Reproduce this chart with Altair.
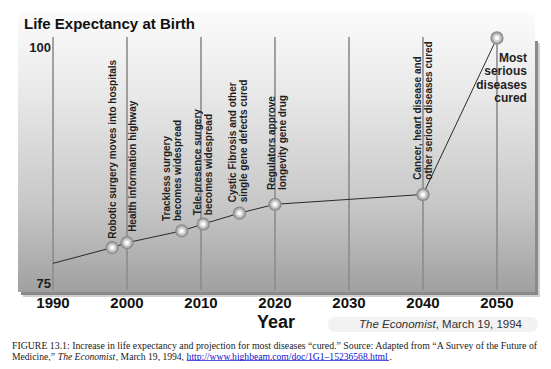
import altair as alt
import pandas as pd

# ---------------- data ----------------
years = [1990, 1998, 2000, 2007.4, 2010.3, 2015.2, 2020, 2040, 2050]
life_exp = [77.1, 78.7, 79.2, 80.4, 81.1, 82.2, 83.1, 84.1, 100.0]

event_labels = [
    "Robotic surgery moves into hospitals",
    "Health information highway",
    "Trackless surgery\nbecomes widespread",
    "Tele-presence surgery\nbecomes widespread",
    "Cystic Fibrosis and other\nsingle gene defects cured",
    "Regulators approve\nlongevity gene drug",
    "Cancer, heart disease and\nother serious diseases cured",
]
# anchor = start (bottom) of the first line of each rotated label
event_label_year = [1998.1, 2000.8, 2005.4, 2009.6, 2014.3, 2019.6, 2039.3]
event_label_value = [79.6, 80.3, 81.4, 82.0, 83.3, 84.55, 85.6]

final_label = "Most\nserious\ndiseases\ncured"
final_label_year = [2054.05]
final_label_value = [97.95]

tick_years = [1990, 2000, 2010, 2020, 2030, 2040, 2050]
y_top_label = ["100"]
y_top_value = [100]
y_bottom_label = ["75"]
y_bottom_value = [75]

title_text = "Life Expectancy at Birth"
x_title = "Year"
source_italic = "The Economist"
source_rest = ", March 19, 1994"
caption_line1 = ("FIGURE 13.1: Increase in life expectancy and projection for most diseases "
                 "\u201ccured.\u201d Source: Adapted from \u201cA Survey of the Future of")
caption_l2_a = "Medicine,\u201d "
caption_l2_b = "The Economist"
caption_l2_c = ", March 19, 1994, "
caption_l2_link = "http://www.highbeam.com/doc/1G1\u201315236568.html"
caption_l2_end = "."

# ---------------- tables ----------------
series = pd.DataFrame({"year": years, "value": life_exp})
points = series[series["year"] > 1990].reset_index(drop=True)
events = pd.DataFrame({"year": event_label_year, "value": event_label_value, "label": event_labels})
final = pd.DataFrame({"year": final_label_year, "value": final_label_value, "label": [final_label]})
ticks = pd.DataFrame({"year": tick_years})
ytop = pd.DataFrame({"value": y_top_value, "label": y_top_label})
ybot = pd.DataFrame({"value": y_bottom_value, "label": y_bottom_label})
one = pd.DataFrame({"a": [0]})

W, H = 517, 280
xs = alt.Scale(domain=[1985.27, 2055.14], nice=False, zero=False)
ys = alt.Scale(domain=[74.19, 102.64], nice=False, zero=False)
X = alt.X("year:Q", scale=xs, axis=None)
Y = alt.Y("value:Q", scale=ys, axis=None)
SANS = "Liberation Sans"
SERIF = "Liberation Serif"

panel_grad = alt.LinearGradient(
    gradient="linear",
    stops=[
        alt.GradientStop(color="#fbfbfb", offset=0),
        alt.GradientStop(color="#e8e8e8", offset=0.3),
        alt.GradientStop(color="#c6c6c6", offset=0.7),
        alt.GradientStop(color="#a0a0a0", offset=1),
    ],
    x1=0, x2=0, y1=0, y2=1,
)

shadow = alt.Chart(one).mark_rect(fill="#8a8a8a").encode(
    x=alt.value(3), x2=alt.value(W + 3), y=alt.value(29), y2=alt.value(H + 3)
)
shadow2 = alt.Chart(one).mark_rect(fill="#d0d0d0").encode(
    x=alt.value(5), x2=alt.value(W + 5), y=alt.value(31), y2=alt.value(H + 5)
)
panel = alt.Chart(one).mark_rect(fill=panel_grad).encode(
    x=alt.value(0), x2=alt.value(W), y=alt.value(0), y2=alt.value(H)
)
grid = alt.Chart(ticks).transform_calculate(top="100.1", bottom="74.4").mark_rule(
    color="#8c8c8c", strokeWidth=1.6
).encode(
    x=X, y=alt.Y("top:Q", scale=ys, axis=None), y2="bottom:Q"
)
line = alt.Chart(series).mark_line(color="#2a2a2a", strokeWidth=1).encode(x=X, y=Y)
ball_outer = alt.Chart(points).mark_circle(size=175, color="#8a8a8a", opacity=1).encode(x=X, y=Y)
ball_mid = alt.Chart(points).mark_circle(size=115, color="#b0b0b0", opacity=1).encode(x=X, y=Y)
ball_in = alt.Chart(points).mark_circle(size=55, color="#d8d8d8", opacity=1).encode(x=X, y=Y)
ball_hi = alt.Chart(points).mark_circle(size=16, color="#ffffff", opacity=1).encode(x=X, y=Y)

ev_text = alt.Chart(events).mark_text(
    angle=270, align="left", baseline="middle", font=SANS, fontSize=10,
    fontWeight="bold", color="#1e1e1e", lineBreak="\n", lineHeight=11
).encode(x=X, y=Y, text="label:N")
fin_text = alt.Chart(final).mark_text(
    align="right", baseline="middle", font=SANS, fontSize=12, fontWeight="bold",
    color="#1e1e1e", lineBreak="\n", lineHeight=13.3
).encode(x=X, y=Y, text="label:N")

ytop_text = alt.Chart(ytop).mark_text(
    align="right", baseline="middle", font=SANS, fontSize=13, fontWeight="bold",
    color="#1e1e1e", dy=10
).encode(x=alt.value(33), y=Y, text="label:N")
ybot_text = alt.Chart(ybot).mark_text(
    align="right", baseline="middle", font=SANS, fontSize=13, fontWeight="bold",
    color="#1e1e1e"
).encode(x=alt.value(33), y=Y, text="label:N")

tick_text = alt.Chart(ticks).mark_text(
    align="center", baseline="middle", font=SANS, fontSize=15, fontWeight="bold",
    color="#111111"
).encode(x=X, y=alt.value(291), text=alt.Text("year:Q", format="d"))


def label(txt, x, y, **kw):
    return alt.Chart(one).mark_text(align="left", baseline="middle", **kw).encode(
        x=alt.value(x), y=alt.value(y), text=alt.value(txt)
    )


title = label(title_text, 6, 12, font=SANS, fontSize=15, fontWeight="bold", color="#111111")
year_title = alt.Chart(one).mark_text(
    align="center", baseline="middle", font=SANS, fontSize=18, fontWeight="bold", color="#111111"
).encode(x=alt.value(258), y=alt.value(311), text=alt.value(x_title))
src_bg = alt.Chart(one).mark_rect(fill="#f2f2f2", cornerRadius=7).encode(
    x=alt.value(310), x2=alt.value(520), y=alt.value(305), y2=alt.value(320)
)
src1 = label(source_italic, 341, 312.5, font=SANS, fontSize=11.5, fontStyle="italic", color="#333333")
src2 = label(source_rest, 417.7, 312.5, font=SANS, fontSize=11.5, color="#333333")

CS = 9.6
cap_kw = dict(font=SERIF, fontSize=CS, color="#1a1a1a")
L1, L2 = 334.3, 345.4
cap1 = label(caption_line1, -6, L1, font=SERIF, fontSize=9.8, color="#1a1a1a")
cap2a = label(caption_l2_a, -6, L2, **cap_kw)
cap2b = label(caption_l2_b, 39.8, L2, font=SERIF, fontSize=CS, fontStyle="italic", color="#1a1a1a")
cap2c = label(caption_l2_c, 97.8, L2, **cap_kw)
cap2d = label(caption_l2_link, 168.6, L2, font=SERIF, fontSize=CS, color="#1010d0")
cap2e = label(caption_l2_end, 371.4, L2, **cap_kw)
underline = alt.Chart(one).mark_rule(color="#1010d0", strokeWidth=0.8).encode(
    x=alt.value(168.6), x2=alt.value(371), y=alt.value(348.6)
)

chart = alt.layer(
    shadow2, shadow, panel, grid, line, ball_outer, ball_mid, ball_in, ball_hi,
    ev_text, fin_text, ytop_text, ybot_text,
    tick_text, title, year_title, src_bg, src1, src2,
    cap1, cap2a, cap2b, cap2c, cap2d, cap2e, underline,
).properties(
    width=W, height=H,
    autosize=alt.AutoSizeParams(type="none"),
    padding={"left": 10, "top": 4, "right": 8, "bottom": 69},
    background="white",
).configure_view(stroke=None)

chart.save("out.html", embed_options={"renderer": "svg", "actions": False})
